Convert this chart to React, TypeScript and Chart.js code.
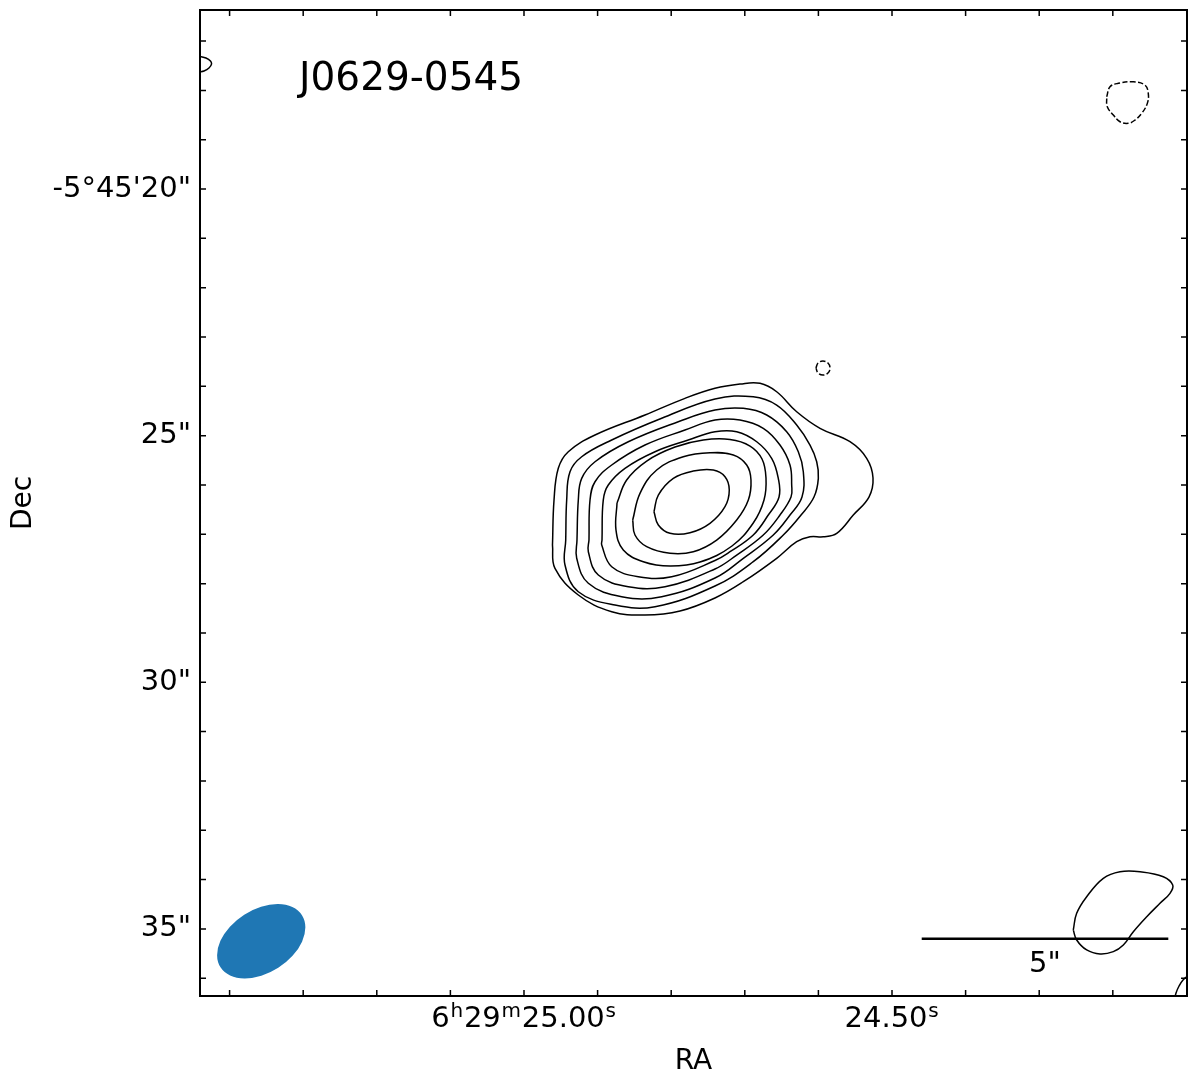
import React, { useEffect, useRef } from "react";
import { Chart, registerables } from "chart.js";
Chart.register(...registerables);

// ---- Axis ranges (RA in seconds of time, Dec in arcsec below -5°45'00") ----
const RA_MIN = 24.0992;
const RA_MAX = 25.4402;
const DEC_MIN = -36.36;
const DEC_MAX = -16.37;

// ---- Tick positions and labels ("^x" = superscript x) ----
const RA_TICKS = [25.4, 25.3, 25.2, 25.1, 25.0, 24.9, 24.8, 24.7, 24.6, 24.5, 24.4, 24.3, 24.2];
const RA_TICK_LABELS = ["", "", "", "", "6^h29^m25.00^s", "", "", "", "", "24.50^s", "", "", ""];
const DEC_TICKS = [-17, -18, -19, -20, -21, -22, -23, -24, -25, -26, -27, -28, -29, -30, -31, -32, -33, -34, -35, -36];
const DEC_TICK_LABELS = ["", "", "", "-5°45'20\"", "", "", "", "", "25\"", "", "", "", "", "30\"", "", "", "", "", "35\"", ""];

// ---- Contours (positive levels, solid) ----
const LEVEL_1: [number, number][] = [
  [24.9613, -27.217], [24.9592, -26.305], [24.9534, -25.662], [24.9398, -25.325], [24.9035, -24.987],
  [24.8356, -24.581], [24.7813, -24.243], [24.7405, -24.040], [24.7065, -23.953], [24.6793, -23.939],
  [24.6567, -24.109], [24.6295, -24.515], [24.5978, -24.851], [24.5571, -25.123], [24.5344, -25.459],
  [24.5258, -25.859], [24.5313, -26.244], [24.5526, -26.609], [24.5751, -26.980], [24.5933, -27.049],
  [24.6114, -27.049], [24.6295, -27.150], [24.6567, -27.486], [24.7020, -27.961], [24.7405, -28.291],
  [24.7880, -28.555], [24.8356, -28.636], [24.8808, -28.569], [24.9262, -28.230], [24.9579, -27.689],
];
const LEVEL_2: [number, number][] = [
  [24.9433, -27.116], [24.9420, -26.305], [24.9375, -25.731], [24.9216, -25.427], [24.8808, -25.088],
  [24.8129, -24.648], [24.7405, -24.257], [24.6885, -24.211], [24.6567, -24.379], [24.6295, -24.784],
  [24.6114, -25.190], [24.6023, -25.528], [24.6001, -25.865], [24.6060, -26.244], [24.6236, -26.609],
  [24.6477, -27.014], [24.6885, -27.555], [24.7405, -28.048], [24.8220, -28.468], [24.8764, -28.433],
  [24.9262, -28.164], [24.9443, -27.622],
];
const LEVEL_3: [number, number][] = [
  [24.9280, -27.116], [24.9262, -26.305], [24.9216, -25.865], [24.9035, -25.528], [24.8583, -25.123],
  [24.7904, -24.717], [24.7405, -24.480], [24.7020, -24.446], [24.6702, -24.581], [24.6431, -24.920],
  [24.6273, -25.325], [24.6205, -25.731], [24.6223, -26.244], [24.6386, -26.609], [24.6613, -27.014],
  [24.7020, -27.486], [24.7405, -27.886], [24.8129, -28.265], [24.8673, -28.265], [24.9126, -27.993],
  [24.9284, -27.486],
];
const LEVEL_4: [number, number][] = [
  [24.9117, -27.116], [24.9103, -26.305], [24.9035, -25.934], [24.8808, -25.595], [24.8356, -25.190],
  [24.7813, -24.886], [24.7405, -24.683], [24.7065, -24.683], [24.6749, -24.851], [24.6522, -25.190],
  [24.6386, -25.595], [24.6363, -26.001], [24.6372, -26.244], [24.6522, -26.609], [24.6749, -27.014],
  [24.7110, -27.420], [24.7405, -27.703], [24.8084, -28.062], [24.8583, -28.062], [24.8990, -27.825],
  [24.9126, -27.353],
];
const LEVEL_5: [number, number][] = [
  [24.8940, -27.116], [24.8923, -26.305], [24.8855, -26.001], [24.8628, -25.662], [24.8220, -25.325],
  [24.7768, -25.088], [24.7405, -24.920], [24.7110, -24.920], [24.6838, -25.123], [24.6635, -25.459],
  [24.6545, -25.865], [24.6535, -26.244], [24.6681, -26.609], [24.6885, -27.014], [24.7201, -27.353],
  [24.7405, -27.531], [24.7993, -27.860], [24.8447, -27.860], [24.8808, -27.657], [24.8944, -27.217],
];
const LEVEL_6: [number, number][] = [
  [24.8736, -26.365], [24.8605, -25.899], [24.8333, -25.514], [24.7948, -25.230], [24.7564, -25.088],
  [24.7201, -25.078], [24.6929, -25.210], [24.6766, -25.473], [24.6712, -25.859], [24.6739, -26.305],
  [24.6885, -26.771], [24.7174, -27.237], [24.7609, -27.562], [24.8016, -27.643], [24.8379, -27.555],
  [24.8651, -27.318], [24.8750, -26.913],
];
const LEVEL_7: [number, number][] = [
  [24.8523, -26.710], [24.8424, -26.169], [24.8197, -25.696], [24.7836, -25.427], [24.7473, -25.346],
  [24.7156, -25.392], [24.6974, -25.595], [24.6916, -25.899], [24.6952, -26.305], [24.7110, -26.710],
  [24.7382, -27.116], [24.7700, -27.353], [24.8016, -27.385], [24.8333, -27.251], [24.8492, -27.014],
];
const LEVEL_8: [number, number][] = [
  [24.8234, -26.542], [24.8175, -26.203], [24.7971, -25.865], [24.7700, -25.717], [24.7428, -25.696],
  [24.7269, -25.832], [24.7211, -26.102], [24.7269, -26.440], [24.7473, -26.777], [24.7745, -26.968],
  [24.8016, -26.980], [24.8175, -26.811],
];
const NOISE_SOUTH_EAST: [number, number][] = [
  [24.2537, -35.022], [24.2491, -34.683], [24.2355, -34.347], [24.2129, -33.974], [24.1902, -33.840],
  [24.1630, -33.840], [24.1314, -33.941], [24.1186, -34.109], [24.1223, -34.278], [24.1359, -34.480],
  [24.1539, -34.752], [24.1721, -35.056], [24.1857, -35.326], [24.1993, -35.461], [24.2174, -35.508],
  [24.2355, -35.427], [24.2491, -35.224],
];
const EDGE_ARC_CORNER: [number, number][] = [
  [24.1168, -36.481], [24.1141, -36.299], [24.1100, -36.157], [24.1046, -36.035], [24.0978, -35.954], [24.0897, -35.934],
];
const EDGE_ARC_LEFT: [number, number][] = [
  [25.4484, -17.304], [25.4402, -17.310], [25.4321, -17.344], [25.4260, -17.405], [25.4246, -17.466],
  [25.4280, -17.547], [25.4348, -17.608], [25.4402, -17.622], [25.4484, -17.628],
];

// ---- Negative contours (dashed) ----
const NEG_SMALL: [number, number][] = [
  [24.6033, -23.629], [24.6005, -23.527], [24.5938, -23.487], [24.5870, -23.527],
  [24.5842, -23.629], [24.5870, -23.730], [24.5938, -23.771], [24.6005, -23.730],
];
const NEG_NORTH_WEST: [number, number][] = [
  [24.2083, -18.129], [24.2038, -17.926], [24.1925, -17.857], [24.1721, -17.825], [24.1563, -17.892],
  [24.1518, -18.060], [24.1531, -18.263], [24.1607, -18.465], [24.1698, -18.601], [24.1789, -18.668],
  [24.1902, -18.636], [24.1993, -18.500], [24.2075, -18.332],
];

const CLOSED_SOLID = [LEVEL_1, LEVEL_2, LEVEL_3, LEVEL_4, LEVEL_5, LEVEL_6, LEVEL_7, LEVEL_8, NOISE_SOUTH_EAST];
const OPEN_SOLID = [EDGE_ARC_CORNER, EDGE_ARC_LEFT];
const CLOSED_DASHED = [NEG_SMALL, NEG_NORTH_WEST];

// ---- Annotations ----
const SOURCE_NAME = "J0629-0545";
const BEAM_RA = 25.357;
const BEAM_DEC = -35.25;
const BEAM_SEMI_MAJOR = 0.98; // arcsec
const BEAM_SEMI_MINOR = 0.64; // arcsec
const BEAM_ANGLE = 32.6; // deg from horizontal, counter-clockwise
const SCALEBAR_ARCSEC = 5;
const SCALEBAR_LABEL = '5"';
const SCALEBAR_END_RA = 24.1246;
const SCALEBAR_DEC = -35.2;
const DEC_DEG = -5.757;

const FONT = "'DejaVu Sans', 'Liberation Sans', sans-serif";
const TICK_SIZE = 29;
const SUP_SIZE = 20;

function toXY(pts: [number, number][], close: boolean) {
  const d = pts.map(([x, y]) => ({ x, y }));
  if (close) d.push({ x: pts[0][0], y: pts[0][1] });
  return d;
}

function parseLabel(s: string) {
  const segs: { t: string; sup: boolean }[] = [];
  let buf = "";
  for (let i = 0; i < s.length; i++) {
    if (s[i] === "^" && i + 1 < s.length) {
      if (buf) segs.push({ t: buf, sup: false });
      buf = "";
      segs.push({ t: s[i + 1], sup: true });
      i++;
    } else buf += s[i];
  }
  if (buf) segs.push({ t: buf, sup: false });
  return segs;
}

const overlay = {
  id: "overlay",
  afterDraw(chart: any) {
    const { ctx, chartArea: a, scales } = chart;
    const x = scales.x, y = scales.y;
    const pxPerArcsec = Math.abs(y.getPixelForValue(0) - y.getPixelForValue(1));
    ctx.save();
    // beam
    ctx.beginPath();
    ctx.ellipse(
      x.getPixelForValue(BEAM_RA), y.getPixelForValue(BEAM_DEC),
      BEAM_SEMI_MAJOR * pxPerArcsec, BEAM_SEMI_MINOR * pxPerArcsec,
      -BEAM_ANGLE * Math.PI / 180, 0, Math.PI * 2
    );
    ctx.fillStyle = "#1f77b4";
    ctx.fill();
    // scale bar
    const raLen = SCALEBAR_ARCSEC / (15 * Math.cos(DEC_DEG * Math.PI / 180));
    const x1 = x.getPixelForValue(SCALEBAR_END_RA + raLen);
    const x2 = x.getPixelForValue(SCALEBAR_END_RA);
    const yb = y.getPixelForValue(SCALEBAR_DEC);
    ctx.beginPath();
    ctx.moveTo(x1, yb);
    ctx.lineTo(x2, yb);
    ctx.strokeStyle = "#000";
    ctx.lineWidth = 2.5;
    ctx.stroke();
    ctx.fillStyle = "#000";
    ctx.font = `${TICK_SIZE}px ${FONT}`;
    ctx.textAlign = "center";
    ctx.textBaseline = "alphabetic";
    ctx.fillText(SCALEBAR_LABEL, (x1 + x2) / 2, yb + 33);
    // source name
    ctx.font = `39px ${FONT}`;
    ctx.textAlign = "left";
    ctx.fillText(SOURCE_NAME, a.left + 99, a.top + 80);
    // RA tick labels with superscripts
    ctx.textAlign = "left";
    const baseY = a.bottom + 31;
    x.ticks.forEach((t: any, i: number) => {
      const lbl = RA_TICK_LABELS[i];
      if (!lbl) return;
      const segs = parseLabel(lbl);
      let w = 0;
      const widths = segs.map((sg) => {
        ctx.font = `${sg.sup ? SUP_SIZE : TICK_SIZE}px ${FONT}`;
        const m = ctx.measureText(sg.t).width + (sg.sup ? 1.5 : 0);
        w += m;
        return m;
      });
      let cx = x.getPixelForValue(t.value) - w / 2;
      segs.forEach((sg, k) => {
        ctx.font = `${sg.sup ? SUP_SIZE : TICK_SIZE}px ${FONT}`;
        ctx.fillText(sg.t, cx + (sg.sup ? 0.8 : 0), sg.sup ? baseY - 10 : baseY);
        cx += widths[k];
      });
    });
    // frame
    ctx.lineWidth = 2;
    ctx.strokeRect(a.left, a.top, a.right - a.left, a.bottom - a.top);
    // inward ticks on all sides
    ctx.lineWidth = 1.5;
    ctx.beginPath();
    for (const t of x.ticks) {
      const px = x.getPixelForValue(t.value);
      ctx.moveTo(px, a.bottom); ctx.lineTo(px, a.bottom - 6);
      ctx.moveTo(px, a.top); ctx.lineTo(px, a.top + 6);
    }
    for (const t of y.ticks) {
      const py = y.getPixelForValue(t.value);
      ctx.moveTo(a.left, py); ctx.lineTo(a.left + 6, py);
      ctx.moveTo(a.right, py); ctx.lineTo(a.right - 6, py);
    }
    ctx.stroke();
    ctx.restore();
  },
};

export default function App() {
  const ref = useRef<HTMLCanvasElement | null>(null);
  useEffect(() => {
    if (!ref.current) return;
    const datasets: any[] = [];
    CLOSED_SOLID.forEach((c) => datasets.push({ data: toXY(c, true), borderDash: [] }));
    OPEN_SOLID.forEach((c) => datasets.push({ data: toXY(c, false), borderDash: [] }));
    CLOSED_DASHED.forEach((c) => datasets.push({ data: toXY(c, true), borderDash: [5.5, 2.4] }));
    const chart = new Chart(ref.current, {
      type: "scatter",
      data: {
        datasets: datasets.map((d) => ({
          ...d,
          showLine: true,
          borderColor: "#000",
          borderWidth: 1.5,
          pointRadius: 0,
          pointHoverRadius: 0,
          tension: 0.4,
          fill: false,
        })),
      },
      options: {
        animation: false,
        responsive: false,
        devicePixelRatio: 1,
        events: [],
        layout: { padding: { top: 10, right: 13, left: 0, bottom: 0 } },
        elements: { line: { capBezierPoints: false } },
        plugins: { legend: { display: false }, tooltip: { enabled: false } },
        scales: {
          x: {
            type: "linear",
            reverse: true,
            min: RA_MIN,
            max: RA_MAX,
            afterBuildTicks: (s: any) => { s.ticks = RA_TICKS.map((v) => ({ value: v })); },
            afterFit: (s: any) => { s.height = 83; s.paddingLeft = 0; s.paddingRight = 0; },
            grid: { display: false, drawTicks: false },
            border: { display: false },
            ticks: {
              autoSkip: false,
              maxRotation: 0,
              padding: 5,
              color: "#000",
              font: { family: FONT, size: TICK_SIZE },
              callback: () => "",
            },
            title: { display: true, text: "RA", color: "#000", font: { family: FONT, size: 28 }, padding: 0 },
          },
          y: {
            type: "linear",
            min: DEC_MIN,
            max: DEC_MAX,
            afterBuildTicks: (s: any) => { s.ticks = DEC_TICKS.map((v) => ({ value: v })); },
            afterFit: (s: any) => { s.width = 200; s.paddingTop = 0; s.paddingBottom = 0; },
            grid: { display: false, drawTicks: false },
            border: { display: false },
            ticks: {
              autoSkip: false,
              padding: 9,
              color: "#000",
              font: { family: FONT, size: TICK_SIZE },
              callback: (_v: any, i: number) => DEC_TICK_LABELS[i],
            },
            title: { display: true, text: "Dec", color: "#000", font: { family: FONT, size: 28 }, padding: 7 },
          },
        },
      },
      plugins: [overlay],
    } as any);
    return () => chart.destroy();
  }, []);
  return (
    <div style={{ position: "absolute", left: 0, top: 0, width: 1200, height: 1079, background: "#fff" }}>
      <canvas ref={ref} width={1200} height={1079} />
    </div>
  );
}
